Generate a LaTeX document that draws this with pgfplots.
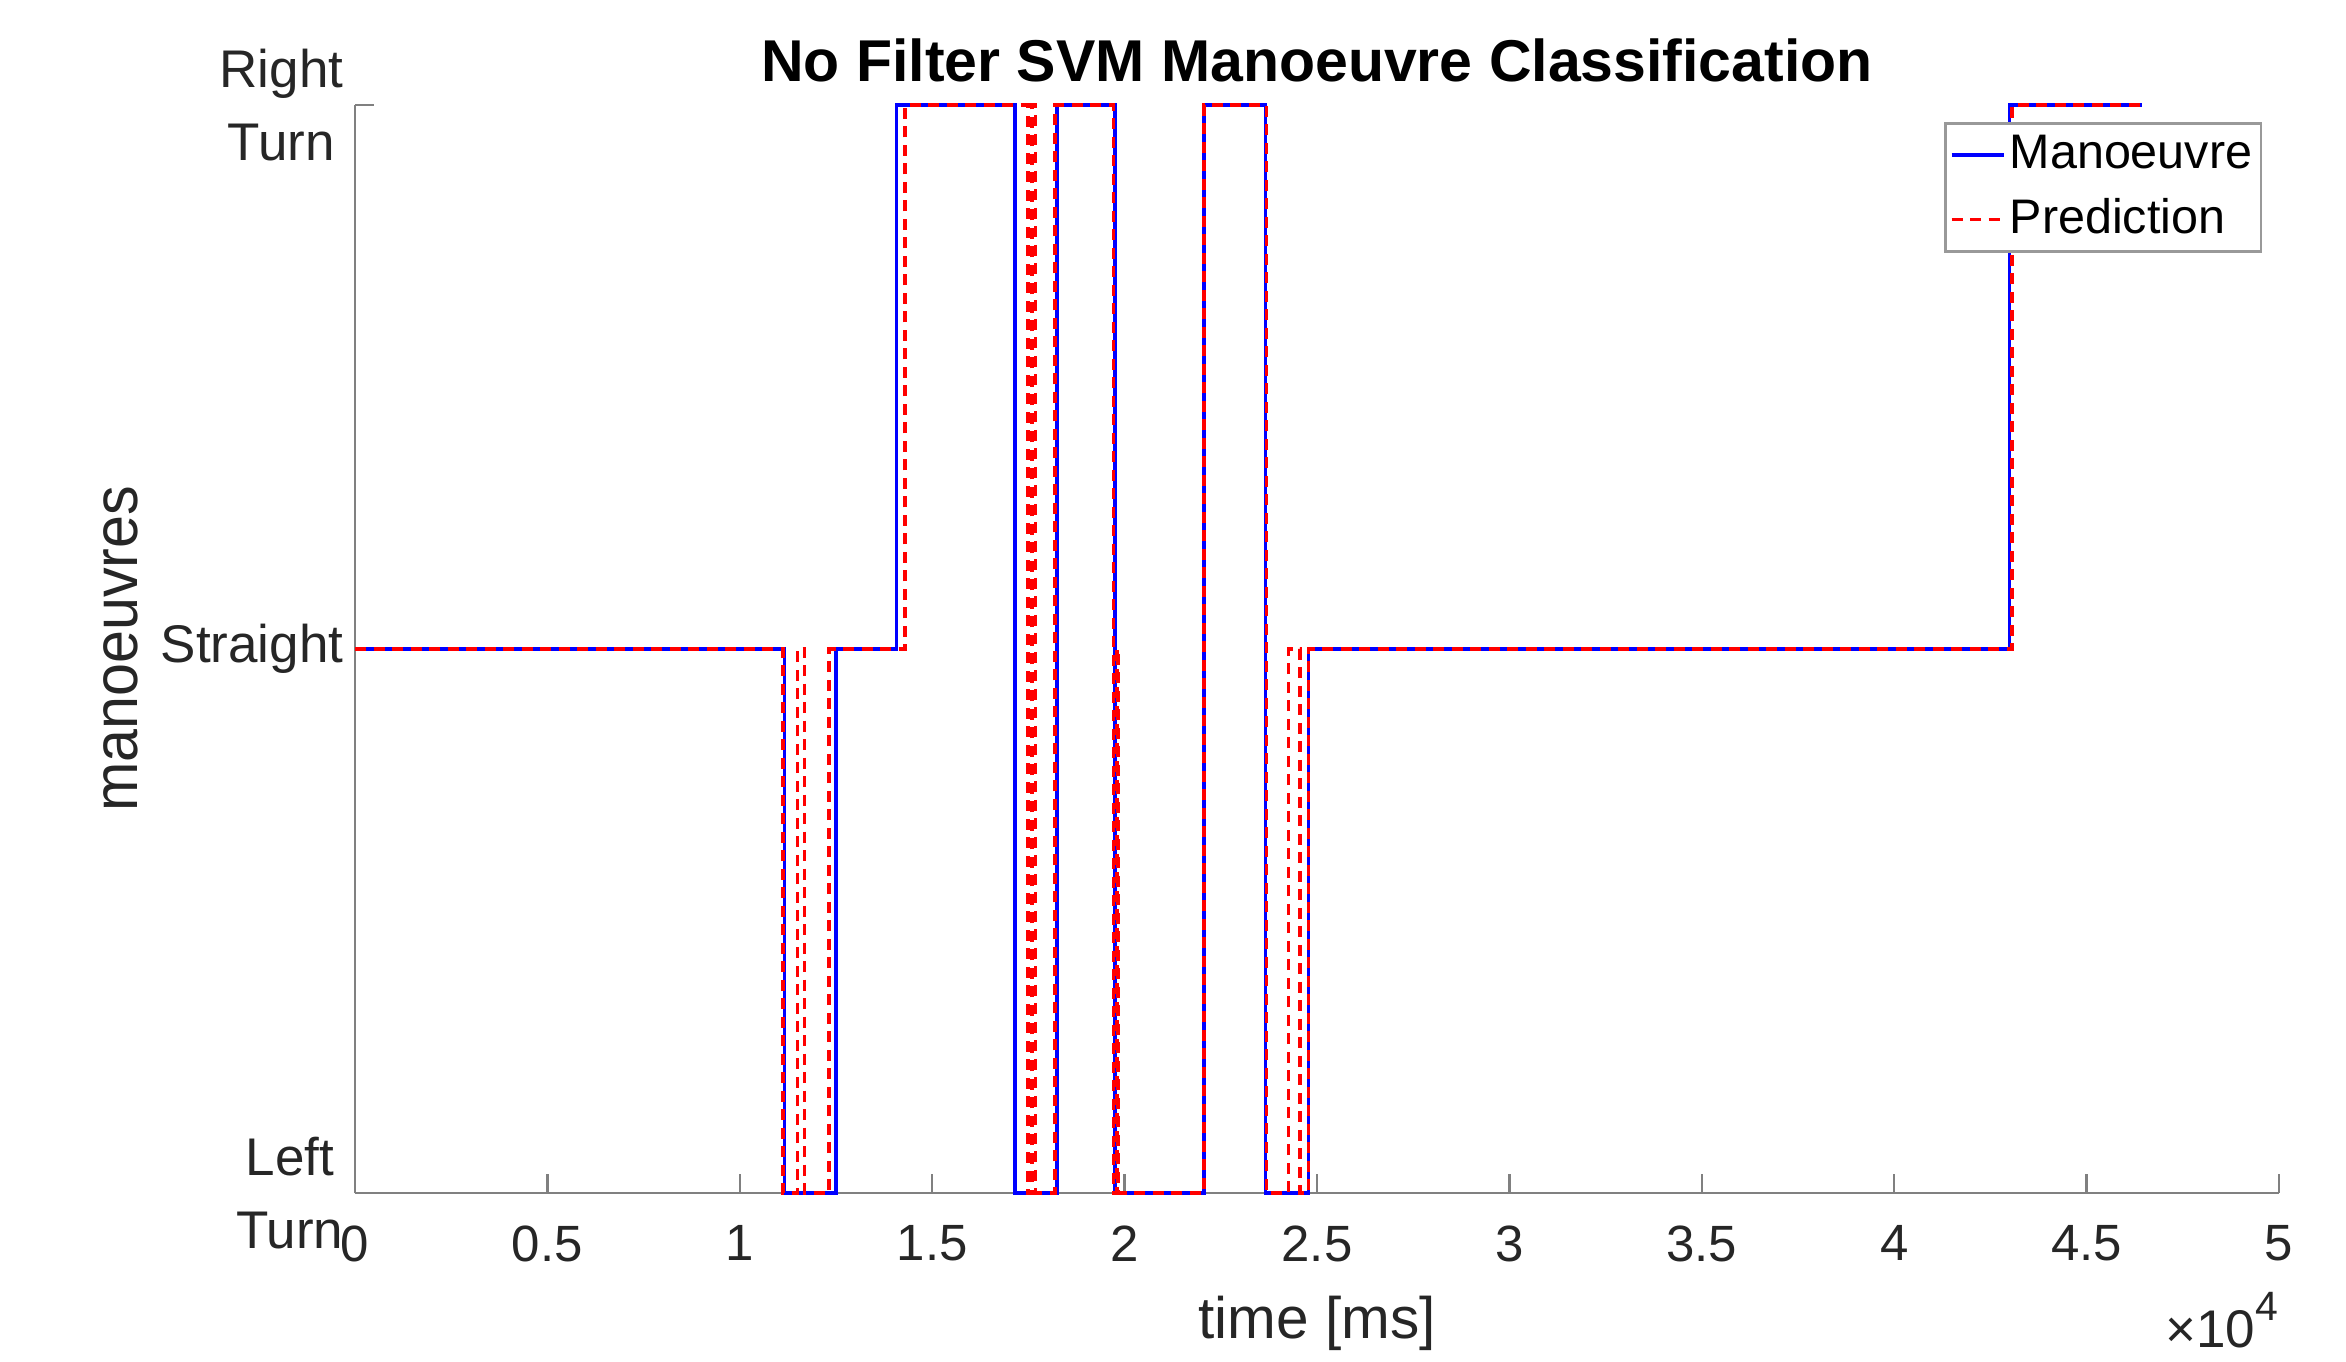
\documentclass[border=0pt]{standalone}
\usepackage{fontspec}
\setmainfont{Liberation Sans}
\usepackage{pgfplots}
\pgfplotsset{compat=1.18}
\usetikzlibrary{calc}

\definecolor{txt}{RGB}{38,38,38}
\definecolor{axgray}{RGB}{128,128,128}

\begin{document}
\begin{tikzpicture}
\begin{axis}[
    name=ax,
    scale only axis,
    width=384.8pt, height=217.6pt,
    xmin=0, xmax=50000,
    ymin=-1, ymax=1,
    clip=false,
    axis lines*=left,
    axis line style={axgray, line width=0.5pt, -},
    tick style={axgray, line width=0.5pt},
    tick align=inside,
    major tick length=3.8pt,
    xtick={0,5000,...,50000},
    scaled x ticks=base 10:-4,
    xtick scale label code/.code={×10\raisebox{0.5em}{\fontsize{8.2}{9}\selectfont 4}},
    every x tick scale label/.style={at={(axis description cs:1,-0.077)}, anchor=north east, inner sep=0pt, font=\fontsize{10.6}{12}\selectfont, text=txt},
    /pgf/number format/assume math mode=true,
    xticklabel style={font=\fontsize{10.2}{12}\selectfont, text=txt, yshift=-3pt},
    ytick={-1,0,1},
    yticklabels={{Left\\Turn},Straight,{Right\\Turn}},
    yticklabel style={align=center, font=\fontsize{10.6}{14.7}\selectfont, text=txt, xshift=1.2pt},
    xlabel={time [ms]},
    xlabel style={at={(axis description cs:0.5,-0.1195)}, anchor=center, font=\fontsize{11.7}{14}\selectfont, text=txt},
    ylabel={\scalebox{0.94}[1]{manoeuvres}},
    ylabel style={at={(axis description cs:-0.1216,0.5)}, anchor=center, font=\fontsize{12.6}{14}\selectfont, text=txt},
    title={No Filter SVM Manoeuvre Classification},
    every axis title/.style={at={(axis description cs:0.5,1.022)}, anchor=base, inner sep=0pt, font=\fontsize{11.8}{14}\selectfont\bfseries},
    legend cell align=left,
    legend image code/.code={\draw[#1] (0pt,0pt) -- (10.5pt,0pt);},
    legend style={at={(axis description cs:0.9912,0.984)}, anchor=north east,
        draw=black!40, line width=0.5pt, fill=white,
        font=\fontsize{9.7}{11}\selectfont, text=black,
        inner xsep=0.9pt, inner ysep=1.4pt, row sep=2.9pt,
        nodes={inner sep=0.8pt}},
]
\addplot[const plot, blue, line width=0.65pt] coordinates {
    (0,0) (11170,-1) (12500,0) (14080,1) (17150,-1) (18240,1)
    (19750,-1) (22060,1) (23670,-1) (24770,0) (43000,1) (46440,1)
};
\addlegendentry{Manoeuvre}
\addplot[const plot, red, line width=0.65pt, dash pattern=on 2.2pt off 1.5pt] coordinates {
    (0,0) (11120,-1) (11490,0) (11690,-1) (12320,0) (14290,1)
    (17490,-1) (17590,1) (17690,-1) (18190,1)
    (19720,-1) (19800,0) (19830,-1) (22060,1) (23680,-1)
    (24250,0) (24560,-1) (24770,0) (43060,1) (46440,1)
};
\addlegendentry{Prediction}
\end{axis}
\pgfresetboundingbox
\path ($(ax.south west)+(-71pt,-33.6pt)$) rectangle ($(ax.north east)+(13.4pt,21pt)$);
\end{tikzpicture}
\end{document}
